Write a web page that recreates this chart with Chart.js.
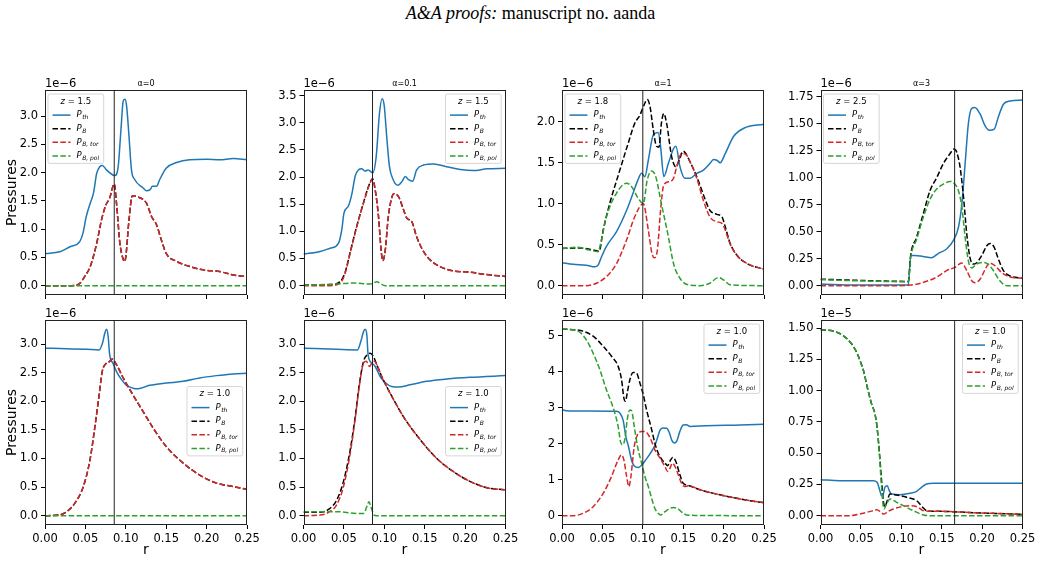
<!DOCTYPE html>
<html>
<head>
<meta charset="utf-8">
<script src="https://cdn.jsdelivr.net/npm/chart.js@4.4.0/dist/chart.umd.min.js"></script>
<style>
  body { margin: 0; background: #fff; }
  #page { position: relative; width: 1041px; height: 563px; overflow: hidden; background: #fff; }
  #page canvas { position: absolute; left: 0; top: 0; }
  #header { position: absolute; left: 10px; top: 4px; width: 1041px; text-align: center;
            font: 18px/18px "Liberation Serif", "Times New Roman", serif; color: #000; }
</style>
</head>
<body>
<div id="page">
  <div id="header"><i>A&amp;A proofs:</i> manuscript no. aanda</div>
</div>
<script>
// ---- labels and axis data ----
const alphas = ['0', '0.1', '1', '3'];
const zTop = ['1.5', '1.5', '1.8', '2.5'];
const zBottom = ['1.0', '1.0', '1.0', '1.0'];
const rMark = [0.0857, 0.0854, 0.1, 0.166];
const seriesSubs = ['th', 'B', 'B, tor', 'B, pol'];
const xTicks = [0, 0.05, 0.1, 0.15, 0.2, 0.25];
const yLimits = [[-0.165, 3.465], [-0.172, 3.602], [-0.114, 2.387], [-0.086, 1.812],
                 [-0.163, 3.423], [-0.163, 3.423], [-0.259, 5.439], [-0.0745, 1.5645]];
const yStep = [0.5, 0.5, 0.5, 0.25, 0.5, 0.5, 1, 0.25];
const yDecimals = [1, 1, 1, 2, 1, 1, 0, 2];
const yExponent = ['1e\u22126', '1e\u22126', '1e\u22126', '1e\u22126', '1e\u22126', '1e\u22126', '1e\u22126', '1e\u22125'];
const legendSpot = ['ul', 'ur', 'ul', 'ul', 'cr', 'cr', 'ur', 'ur'];

// ---- series, [r, pressure] (top row) ----
const p1_th = [[0,0.57],[0.0185,0.60],[0.031,0.69],[0.043,0.78],[0.047,0.93],[0.051,1.22],[0.056,1.46],[0.060,1.64],[0.064,1.99],[0.068,2.11],[0.071,2.13],[0.076,2.05],[0.084,1.96],[0.0865,1.95],[0.0906,2.11],[0.094,2.76],[0.0968,3.27],[0.099,3.30],[0.101,3.18],[0.104,2.64],[0.107,2.05],[0.111,1.88],[0.1215,1.73],[0.1256,1.68],[0.13,1.70],[0.133,1.76],[0.138,1.76],[0.142,1.88],[0.150,2.08],[0.163,2.18],[0.179,2.23],[0.2,2.24],[0.216,2.23],[0.233,2.25],[0.25,2.23]];
const p1_tor = [[0,0],[0.033,0],[0.043,0.04],[0.049,0.16],[0.056,0.34],[0.064,0.75],[0.070,1.17],[0.0754,1.43],[0.080,1.55],[0.0857,1.80],[0.0885,1.46],[0.0927,0.75],[0.097,0.46],[0.0985,0.43],[0.100,0.51],[0.104,1.17],[0.108,1.59],[0.113,1.58],[0.1256,1.46],[0.132,1.22],[0.138,1.08],[0.144,0.81],[0.150,0.57],[0.163,0.43],[0.179,0.34],[0.196,0.28],[0.216,0.25],[0.233,0.19],[0.25,0.16]];
const p1_B = p1_tor;
const p1_pol = [[0,0],[0.25,0]];

const p2_th = [[0,0.58],[0.0206,0.63],[0.033,0.69],[0.0433,0.78],[0.0474,1.03],[0.050,1.33],[0.0557,1.47],[0.060,1.70],[0.064,2.02],[0.068,2.13],[0.072,2.15],[0.0763,2.11],[0.080,2.13],[0.0858,2.08],[0.090,2.38],[0.094,3.17],[0.0974,3.44],[0.100,3.30],[0.103,2.74],[0.1064,2.19],[0.111,1.95],[0.1167,1.85],[0.122,1.92],[0.126,2.01],[0.130,1.95],[0.135,1.92],[0.140,2.13],[0.1485,2.22],[0.161,2.24],[0.177,2.19],[0.194,2.14],[0.210,2.12],[0.227,2.15],[0.25,2.16]];
const p2_B = [[0,0.01],[0.033,0.02],[0.045,0.07],[0.0516,0.25],[0.0578,0.62],[0.066,1.10],[0.0743,1.53],[0.0813,1.86],[0.0854,1.97],[0.0887,1.77],[0.0928,1.28],[0.096,0.67],[0.098,0.46],[0.101,0.63],[0.105,1.27],[0.109,1.61],[0.112,1.69],[0.1176,1.64],[0.124,1.39],[0.128,1.24],[0.134,1.18],[0.140,0.90],[0.1485,0.63],[0.157,0.47],[0.169,0.35],[0.186,0.27],[0.206,0.25],[0.223,0.21],[0.25,0.17]];
const p2_tor = [[0,0],[0.033,0],[0.045,0.04],[0.0516,0.23],[0.0578,0.60],[0.066,1.09],[0.0743,1.52],[0.0813,1.85],[0.0854,1.96],[0.0887,1.76],[0.0928,1.27],[0.096,0.66],[0.098,0.46],[0.101,0.63],[0.105,1.27],[0.109,1.61],[0.112,1.69],[0.1176,1.64],[0.124,1.39],[0.128,1.24],[0.134,1.18],[0.140,0.90],[0.1485,0.63],[0.157,0.47],[0.169,0.35],[0.186,0.27],[0.206,0.25],[0.223,0.21],[0.25,0.17]];
const p2_pol = [[0,0.01],[0.041,0.03],[0.062,0.05],[0.0825,0.03],[0.091,0.07],[0.095,0.04],[0.101,0],[0.25,0]];

const p3_th = [[0,0.28],[0.0137,0.26],[0.030,0.25],[0.0406,0.23],[0.0447,0.25],[0.0488,0.35],[0.055,0.48],[0.0675,0.66],[0.080,0.92],[0.088,1.13],[0.094,1.29],[0.0985,1.37],[0.1026,1.33],[0.1068,1.53],[0.113,1.84],[0.119,1.87],[0.122,1.70],[0.126,1.33],[0.1316,1.49],[0.138,1.67],[0.141,1.70],[0.146,1.45],[0.152,1.31],[0.1585,1.31],[0.1668,1.37],[0.175,1.41],[0.183,1.49],[0.1875,1.54],[0.1916,1.53],[0.1958,1.50],[0.202,1.61],[0.2123,1.82],[0.225,1.92],[0.25,1.97]];
const p3_B = [[0,0.455],[0.022,0.46],[0.0385,0.435],[0.046,0.42],[0.051,0.68],[0.059,1.00],[0.0716,1.41],[0.082,1.74],[0.090,1.98],[0.0964,2.08],[0.1014,2.20],[0.1055,2.27],[0.109,2.18],[0.113,1.90],[0.117,1.70],[0.120,1.69],[0.123,1.98],[0.126,2.10],[0.1295,1.98],[0.1358,1.57],[0.141,1.45],[0.145,1.53],[0.150,1.64],[0.1585,1.51],[0.1668,1.33],[0.175,1.11],[0.183,0.92],[0.1916,0.87],[0.198,0.84],[0.202,0.72],[0.208,0.52],[0.2165,0.37],[0.229,0.27],[0.25,0.20]];
const p3_tor = [[0,0],[0.030,0],[0.0426,0.03],[0.055,0.11],[0.0675,0.27],[0.080,0.56],[0.090,0.84],[0.1006,1.00],[0.1068,0.68],[0.111,0.41],[0.114,0.34],[0.118,0.43],[0.122,0.92],[0.126,1.23],[0.1337,1.27],[0.138,1.31],[0.142,1.45],[0.148,1.61],[0.152,1.61],[0.1585,1.51],[0.1668,1.31],[0.175,1.04],[0.183,0.84],[0.1916,0.78],[0.198,0.76],[0.202,0.68],[0.208,0.51],[0.2165,0.37],[0.229,0.27],[0.25,0.20]];
const p3_pol = [[0,0.45],[0.018,0.47],[0.034,0.435],[0.0447,0.415],[0.0488,0.56],[0.055,0.84],[0.0675,1.13],[0.080,1.25],[0.086,1.21],[0.094,1.07],[0.1006,1.00],[0.1055,1.29],[0.111,1.40],[0.116,1.33],[0.123,1.00],[0.1316,0.60],[0.138,0.27],[0.146,0.09],[0.156,0.01],[0.171,0],[0.183,0.03],[0.1937,0.10],[0.2,0.07],[0.208,0.01],[0.25,0]];

const p4_th = [[0,0.015],[0.0446,0.006],[0.1087,0.006],[0.1116,0.28],[0.117,0.28],[0.127,0.27],[0.1376,0.26],[0.146,0.30],[0.156,0.34],[0.1645,0.42],[0.1707,0.54],[0.175,0.76],[0.179,1.13],[0.183,1.50],[0.187,1.64],[0.191,1.65],[0.1975,1.59],[0.2037,1.48],[0.209,1.44],[0.215,1.45],[0.220,1.56],[0.2264,1.68],[0.2347,1.71],[0.25,1.72]];
const p4_B = [[0,0.06],[0.1087,0.04],[0.1116,0.28],[0.119,0.45],[0.127,0.66],[0.1355,0.88],[0.1438,1.00],[0.152,1.13],[0.160,1.22],[0.1653,1.265],[0.1686,1.235],[0.1727,1.10],[0.177,0.82],[0.181,0.48],[0.185,0.26],[0.189,0.20],[0.193,0.21],[0.1996,0.28],[0.2058,0.37],[0.210,0.39],[0.215,0.355],[0.220,0.25],[0.2264,0.14],[0.2347,0.09],[0.25,0.07]];
const p4_tor = [[0,0],[0.086,0],[0.111,0.006],[0.127,0.03],[0.1438,0.08],[0.156,0.14],[0.1665,0.17],[0.1748,0.21],[0.181,0.14],[0.1872,0.046],[0.1913,0.028],[0.1975,0.06],[0.2037,0.15],[0.209,0.21],[0.2161,0.185],[0.2244,0.12],[0.2347,0.08],[0.25,0.07]];
const p4_pol = [[0,0.056],[0.0446,0.046],[0.1087,0.037],[0.1116,0.26],[0.119,0.43],[0.127,0.63],[0.1355,0.80],[0.1438,0.895],[0.152,0.94],[0.160,0.965],[0.1645,0.955],[0.1707,0.88],[0.175,0.725],[0.179,0.45],[0.183,0.23],[0.187,0.165],[0.193,0.20],[0.2016,0.215],[0.208,0.195],[0.214,0.14],[0.222,0.046],[0.2306,0],[0.25,0]];

// ---- bottom row ----
const p5_th = [[0,2.93],[0.0268,2.92],[0.0515,2.91],[0.067,2.90],[0.0712,3.02],[0.074,3.19],[0.0762,3.26],[0.0782,3.13],[0.080,2.82],[0.0844,2.66],[0.0885,2.52],[0.0947,2.38],[0.101,2.28],[0.109,2.23],[0.115,2.22],[0.1297,2.28],[0.150,2.32],[0.171,2.35],[0.1915,2.41],[0.212,2.45],[0.2327,2.48],[0.25,2.49]];
const p5_tor = [[0,0],[0.0165,0.01],[0.0268,0.07],[0.037,0.22],[0.0474,0.51],[0.0556,0.97],[0.0618,1.56],[0.0667,2.08],[0.0708,2.52],[0.0754,2.66],[0.080,2.70],[0.083,2.74],[0.0885,2.64],[0.0968,2.41],[0.109,2.11],[0.1215,1.82],[0.134,1.53],[0.150,1.21],[0.171,0.92],[0.1915,0.71],[0.212,0.57],[0.2327,0.51],[0.25,0.46]];
const p5_B = p5_tor;
const p5_pol = [[0,0],[0.25,0]];

const p6_th = [[0,2.93],[0.041,2.91],[0.0668,2.90],[0.071,3.05],[0.0743,3.22],[0.0763,3.26],[0.0784,3.16],[0.080,2.81],[0.0846,2.67],[0.0887,2.61],[0.095,2.43],[0.101,2.33],[0.109,2.26],[0.1176,2.25],[0.132,2.29],[0.1526,2.35],[0.1774,2.39],[0.206,2.42],[0.25,2.45]];
const p6_B = [[0,0.06],[0.0206,0.06],[0.031,0.11],[0.041,0.27],[0.0495,0.60],[0.0578,1.15],[0.064,1.73],[0.0693,2.32],[0.0743,2.70],[0.0784,2.81],[0.0825,2.84],[0.0866,2.78],[0.0907,2.64],[0.097,2.43],[0.1073,2.14],[0.1238,1.73],[0.1444,1.33],[0.165,1.00],[0.1856,0.77],[0.206,0.60],[0.2269,0.49],[0.25,0.45]];
const p6_tor = [[0,0],[0.0206,0.01],[0.031,0.06],[0.041,0.19],[0.0495,0.51],[0.0578,1.09],[0.064,1.70],[0.0693,2.29],[0.0743,2.67],[0.0776,2.70],[0.0817,2.61],[0.0846,2.67],[0.0875,2.70],[0.0907,2.64],[0.097,2.43],[0.1073,2.14],[0.1238,1.73],[0.1444,1.33],[0.165,1.00],[0.1856,0.77],[0.206,0.60],[0.2269,0.49],[0.25,0.45]];
const p6_pol = [[0,0.07],[0.041,0.07],[0.066,0.04],[0.0743,0.04],[0.0784,0.16],[0.081,0.245],[0.0833,0.16],[0.0875,0.01],[0.09,0],[0.25,0]];

const p7_th = [[0,2.95],[0.005,2.92],[0.0343,2.91],[0.0675,2.90],[0.0716,2.85],[0.0757,2.65],[0.079,2.2],[0.082,1.95],[0.086,1.55],[0.0894,1.38],[0.0944,1.34],[0.0985,1.40],[0.1026,1.52],[0.1089,1.72],[0.115,1.95],[0.118,2.15],[0.1213,2.38],[0.1246,2.44],[0.1296,2.43],[0.133,2.30],[0.1358,2.10],[0.139,2.02],[0.142,2.07],[0.146,2.35],[0.150,2.52],[0.154,2.53],[0.1585,2.48],[0.179,2.50],[0.2206,2.52],[0.25,2.54]];
const p7_B = [[0,5.19],[0.0137,5.17],[0.026,5.13],[0.0385,4.99],[0.051,4.71],[0.0613,4.43],[0.0695,4.15],[0.0737,3.78],[0.0766,3.27],[0.0786,3.18],[0.0807,3.41],[0.084,3.78],[0.088,3.98],[0.0923,3.96],[0.0964,3.69],[0.1006,3.36],[0.1047,2.94],[0.111,2.39],[0.115,2.01],[0.119,1.74],[0.1233,1.57],[0.1275,1.46],[0.1308,1.39],[0.1337,1.52],[0.137,1.62],[0.141,1.50],[0.146,1.13],[0.150,0.90],[0.1565,0.84],[0.171,0.72],[0.1875,0.62],[0.208,0.52],[0.229,0.43],[0.25,0.36]];
const p7_tor = [[0,0],[0.0137,0],[0.026,0.065],[0.0385,0.25],[0.051,0.62],[0.0613,1.09],[0.0695,1.55],[0.0737,1.69],[0.0766,1.55],[0.080,1.09],[0.0828,0.81],[0.0853,1.09],[0.0894,1.92],[0.0935,2.25],[0.0985,2.34],[0.1026,2.34],[0.1068,2.25],[0.111,2.06],[0.115,1.83],[0.1213,1.60],[0.1275,1.36],[0.1308,1.23],[0.1337,1.32],[0.1366,1.46],[0.140,1.36],[0.144,1.13],[0.148,0.90],[0.152,0.81],[0.1565,0.83],[0.171,0.72],[0.1875,0.62],[0.208,0.52],[0.229,0.43],[0.25,0.36]];
const p7_pol = [[0,5.19],[0.0137,5.17],[0.022,5.10],[0.030,4.89],[0.0385,4.52],[0.0468,4.06],[0.055,3.50],[0.0613,3.13],[0.0654,2.85],[0.0695,2.48],[0.0724,2.06],[0.075,1.97],[0.078,2.15],[0.0807,2.66],[0.084,2.94],[0.0861,2.92],[0.0894,2.48],[0.0935,1.92],[0.0985,1.46],[0.1026,1.09],[0.1068,0.81],[0.111,0.48],[0.115,0.20],[0.119,0.065],[0.122,0.02],[0.1275,0.11],[0.133,0.20],[0.1378,0.23],[0.144,0.18],[0.150,0.065],[0.1565,0.01],[0.25,0]];

const p8_th = [[0,0.288],[0.024,0.28],[0.0653,0.28],[0.070,0.267],[0.0735,0.20],[0.0756,0.16],[0.0777,0.173],[0.0797,0.227],[0.0826,0.24],[0.0851,0.20],[0.088,0.173],[0.0983,0.168],[0.1107,0.179],[0.119,0.195],[0.125,0.227],[0.1314,0.254],[0.1397,0.259],[0.25,0.259]];
const p8_B = [[0,1.486],[0.0157,1.476],[0.028,1.44],[0.0384,1.374],[0.0446,1.308],[0.0496,1.228],[0.0537,1.148],[0.0579,1.027],[0.0632,0.894],[0.0674,0.814],[0.070,0.707],[0.0727,0.52],[0.0756,0.28],[0.0777,0.12],[0.0797,0.072],[0.0826,0.12],[0.086,0.173],[0.0942,0.165],[0.1066,0.147],[0.119,0.12],[0.1273,0.061],[0.1314,0.04],[0.148,0.035],[0.189,0.024],[0.25,0.011]];
const p8_tor = [[0,0],[0.036,0],[0.053,0.02],[0.065,0.04],[0.070,0.048],[0.0748,0.027],[0.0785,0.013],[0.0839,0.035],[0.090,0.053],[0.1004,0.072],[0.1107,0.08],[0.121,0.067],[0.1273,0.04],[0.148,0.035],[0.189,0.024],[0.25,0.011]];
const p8_pol = [[0,1.486],[0.0157,1.476],[0.028,1.44],[0.0384,1.374],[0.0446,1.308],[0.0496,1.228],[0.0537,1.148],[0.0579,1.027],[0.0632,0.894],[0.0674,0.814],[0.070,0.707],[0.0727,0.507],[0.0756,0.227],[0.0785,0.053],[0.0818,0.093],[0.086,0.133],[0.0942,0.107],[0.1025,0.08],[0.1149,0.04],[0.1273,0.005],[0.1355,0],[0.25,0]];

const panels = [
  [p1_th, p1_B, p1_tor, p1_pol], [p2_th, p2_B, p2_tor, p2_pol],
  [p3_th, p3_B, p3_tor, p3_pol], [p4_th, p4_B, p4_tor, p4_pol],
  [p5_th, p5_B, p5_tor, p5_pol], [p6_th, p6_B, p6_tor, p6_pol],
  [p7_th, p7_B, p7_tor, p7_pol], [p8_th, p8_B, p8_tor, p8_pol]
];

// ---- styling / layout ----
const W = 1041, H = 563;
const colors = ['#1f77b4', '#000000', '#d62728', '#2ca02c'];
const DASH = [5.5, 2.4];
const colLeft = [45, 303.5, 562, 820.5];
const rowTop = [90, 320];
const axW = 202, axH = 205;
const FONT = '"DejaVu Sans", sans-serif';
const TICK_SIZE = 11.5;

Chart.defaults.font.family = FONT;
Chart.defaults.color = '#000';

// draws frame, offset text, title and the legend inside the axes
function makeDecor(info) {
  return {
    id: 'decor',
    afterDraw(chart) {
      const ctx = chart.ctx, a = chart.chartArea;
      ctx.save();
      ctx.strokeStyle = '#222';
      ctx.lineWidth = 1;
      ctx.strokeRect(Math.round(a.left) + 0.5, Math.round(a.top) + 0.5,
                     Math.round(a.right - a.left) - 1, Math.round(a.bottom - a.top) - 1);

      ctx.fillStyle = '#000';
      ctx.textBaseline = 'alphabetic';
      ctx.textAlign = 'left';
      ctx.font = TICK_SIZE + 'px ' + FONT;
      ctx.fillText(info.exponent, a.left, a.top - 3);
      if (info.title) {
        ctx.font = '8px ' + FONT;
        ctx.textAlign = 'center';
        ctx.fillText(info.title, (a.left + a.right) / 2, a.top - 4);
      }

      // legend
      const rowH = 13.6;
      const hx = info.spot === 'ul' ? a.left + 7.5 : a.right - 55.5;
      const ty = info.spot === 'cr' ? a.top + 74 : a.top + 11.5;
      const tx = hx + 24;
      const mainFont = 'italic 8.5px ' + FONT, subFont = 'italic 6px ' + FONT;
      ctx.font = mainFont;
      const pw = ctx.measureText('P').width;
      ctx.font = subFont;
      let maxW = 0;
      seriesSubs.forEach(s => { maxW = Math.max(maxW, pw + 0.5 + ctx.measureText(s).width); });
      const bx = hx - 4.5, bw = tx + maxW + 4.5 - bx;
      const by = ty - 7.5, bh = 4 * rowH + 15;
      ctx.beginPath();
      ctx.roundRect(bx, by, bw, bh, 2);
      ctx.fillStyle = 'rgba(255,255,255,0.8)';
      ctx.fill();
      ctx.strokeStyle = 'rgba(204,204,204,0.8)';
      ctx.stroke();

      // title  z = ...
      ctx.textBaseline = 'middle';
      ctx.fillStyle = '#000';
      ctx.font = 'italic 8.5px ' + FONT;
      const zw = ctx.measureText('z').width;
      ctx.font = '8.5px ' + FONT;
      const rest = ' = ' + info.z;
      const rw = ctx.measureText(rest).width;
      const cx = bx + bw / 2 - (zw + rw) / 2;
      ctx.font = 'italic 8.5px ' + FONT;
      ctx.textAlign = 'left';
      ctx.fillText('z', cx, ty);
      ctx.font = '8.5px ' + FONT;
      ctx.fillText(rest, cx + zw, ty);

      seriesSubs.forEach((s, k) => {
        const y = ty + rowH * (k + 1);
        ctx.beginPath();
        ctx.setLineDash(k === 0 ? [] : DASH);
        ctx.strokeStyle = colors[k];
        ctx.lineWidth = 1.5;
        ctx.moveTo(hx, y);
        ctx.lineTo(hx + 18, y);
        ctx.stroke();
        ctx.setLineDash([]);
        ctx.fillStyle = '#000';
        ctx.font = mainFont;
        ctx.fillText('P', tx, y);
        ctx.font = subFont;
        ctx.fillText(s, tx + pw + 0.5, y + 2.5);
      });
      ctx.restore();
    }
  };
}

const page = document.getElementById('page');

panels.forEach((series, i) => {
  const row = Math.floor(i / 4), col = i % 4;
  const left = colLeft[col], top = rowTop[row];
  const right = left + axW, bottom = top + axH;
  const bottomRow = row === 1;
  const yW = 45, xH = bottomRow ? 38 : 4;

  const canvas = document.createElement('canvas');
  canvas.width = W;
  canvas.height = H;
  page.appendChild(canvas);

  const datasets = series.map((d, k) => ({
    data: d,
    borderColor: colors[k],
    borderWidth: 1.5,
    borderDash: k === 0 ? [] : DASH,
    pointRadius: 0,
    cubicInterpolationMode: 'monotone',
    order: 4 - k
  }));
  // vertical marker line
  datasets.push({
    data: [[rMark[col], yLimits[i][0]], [rMark[col], yLimits[i][1]]],
    borderColor: '#222',
    borderWidth: 1,
    pointRadius: 0,
    order: 0
  });

  const gridStyle = { drawOnChartArea: false, drawTicks: true, tickLength: 4, color: '#000', lineWidth: 1 };

  new Chart(canvas, {
    type: 'line',
    data: { datasets },
    options: {
      responsive: false,
      animation: false,
      events: [],
      layout: { padding: { left: left - yW, top: top, right: W - right, bottom: H - bottom - xH } },
      plugins: { legend: { display: false }, tooltip: { enabled: false } },
      scales: {
        x: {
          type: 'linear', min: xTicks[0], max: xTicks[xTicks.length - 1],
          border: { display: false },
          grid: gridStyle,
          ticks: { display: bottomRow, stepSize: 0.05, autoSkip: false, maxRotation: 0, padding: 3,
                   font: { size: TICK_SIZE }, color: '#000', callback: v => v.toFixed(2) },
          title: { display: bottomRow, text: 'r', font: { size: 14 }, color: '#000', padding: { top: 0, bottom: 4 } },
          afterFit: s => { s.height = xH; }
        },
        y: {
          type: 'linear', min: yLimits[i][0], max: yLimits[i][1],
          border: { display: false },
          grid: gridStyle,
          ticks: { stepSize: yStep[i], includeBounds: false, autoSkip: false, padding: 3,
                   font: { size: TICK_SIZE }, color: '#000', callback: v => v.toFixed(yDecimals[i]) },
          title: { display: col === 0, text: 'Pressures', font: { size: 14 }, color: '#000', padding: { top: 4, bottom: 0 } },
          afterFit: s => { s.width = yW; }
        }
      }
    },
    plugins: [makeDecor({
      exponent: yExponent[i],
      title: row === 0 ? '\u03b1=' + alphas[col] : '',
      z: row === 0 ? zTop[col] : zBottom[col],
      spot: legendSpot[i]
    })]
  });
});
</script>
</body>
</html>
